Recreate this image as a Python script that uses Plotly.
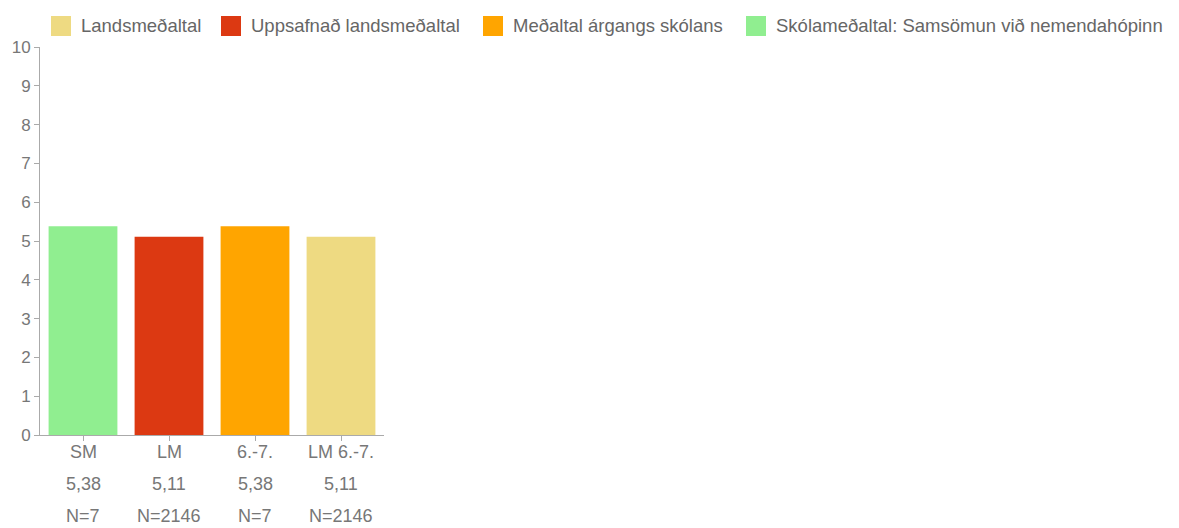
import plotly.graph_objects as go

categories = ["SM", "LM", "6.-7.", "LM 6.-7."]
values = [5.38, 5.11, 5.38, 5.11]
value_labels = ["5,38", "5,11", "5,38", "5,11"]
n_labels = ["N=7", "N=2146", "N=7", "N=2146"]
series_names = ["Landsmeðaltal", "Uppsafnað landsmeðaltal", "Meðaltal árgangs skólans",
                "Skólameðaltal: Samsömun við nemendahópinn"]
series_category = ["LM 6.-7.", "LM", "6.-7.", "SM"]
series_colors = ["#EEDA82", "#DC3912", "#FFA500", "#90EE90"]

val_map = dict(zip(categories, values))

# page body has an 8px margin; figure sized so it fits the 1179x528 window
OX, OY = 8, 8
W, H = 1179 - OX, 528 - OY
ML, MT = 40 - OX, 47 - OY
PW, PH = 344, 388
MR, MB = W - ML - PW, H - MT - PH

def px_x(p):
    return (p - OX - ML) / PW

def px_y(p):
    return (H - MB - (p - OY)) / PH

fig = go.Figure()
for name, cat, col in zip(series_names, series_category, series_colors):
    fig.add_trace(go.Bar(x=[cat], y=[val_map[cat]], name=name, marker_color=col,
                         marker_line_width=0, showlegend=False))

font = "Liberation Sans, Arial, sans-serif"
annotations = []
shapes = []
for cat, v, nl in zip(categories, value_labels, n_labels):
    for txt, shift in ((cat, -17), (v, -49), (nl, -81)):
        annotations.append(dict(x=cat, xref="x", y=0, yref="paper", yanchor="middle",
                                yshift=shift, text=txt, showarrow=False,
                                font=dict(family=font, size=18, color="#777")))

# manual legend (single row above the chart)
legend_x = [51, 221, 483, 746]
for name, col, lx in zip(series_names, series_colors, legend_x):
    shapes.append(dict(type="rect", xref="paper", yref="paper",
                       x0=px_x(lx), x1=px_x(lx + 20), y0=px_y(36), y1=px_y(16),
                       fillcolor=col, line_width=0))
    annotations.append(dict(x=px_x(lx + 28), xref="paper", y=px_y(26), yref="paper",
                            xanchor="left", yanchor="middle", text=name, showarrow=False,
                            font=dict(family=font, size=18.5, color="#666")))

fig.update_layout(
    width=W, height=H,
    margin=dict(l=ML, r=MR, t=MT, b=MB, autoexpand=False),
    plot_bgcolor="white", paper_bgcolor="white",
    barmode="overlay", bargap=0.2,
    showlegend=False,
    annotations=annotations,
    shapes=shapes,
    xaxis=dict(categoryorder="array", categoryarray=categories, showticklabels=False,
               ticks="outside", ticklen=5, tickcolor="#aaa", showline=True,
               linecolor="#aaa", showgrid=False, automargin=False),
    yaxis=dict(range=[0, 10], dtick=1, tick0=0, ticks="outside", ticklen=5,
               tickcolor="#aaa", showline=True, linecolor="#aaa", showgrid=False,
               zeroline=False, automargin=False,
               tickfont=dict(family=font, size=17, color="#777")),
)
fig.write_html("out.html")
